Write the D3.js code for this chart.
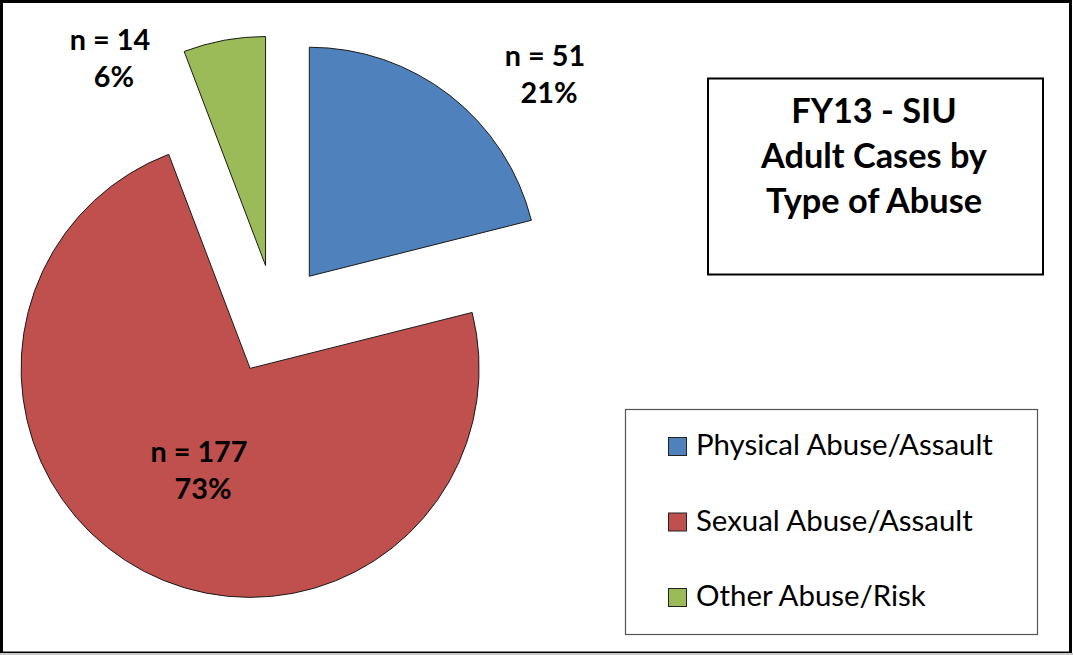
<!DOCTYPE html>
<html>
<head>
<meta charset="utf-8">
<script src="https://cdn.jsdelivr.net/npm/d3@7.9.0/dist/d3.min.js"></script>
<style>
  html, body { margin: 0; padding: 0; background: #fff; }
  svg { display: block; }
</style>
</head>
<body>
<svg id="chart" width="1073" height="655"></svg>
<script>
// data
const categories = ["Physical Abuse/Assault", "Sexual Abuse/Assault", "Other Abuse/Risk"];
const counts = [51, 177, 14];
const percents = ["21%", "73%", "6%"];
const colors = ["#4F81BD", "#C0504D", "#9BBB59"];
const titleLines = ["FY13 - SIU", "Adult Cases by", "Type of Abuse"];

// layout
const W = 1073, H = 655;
const cx = 275.5, cy = 319.6, radius = 229, explode = 55;
const labelAnchors = [[545, 66], [199, 462], [110, 50]]; // centre x / first baseline

const svg = d3.select("#chart");

// outer frame
svg.append("rect")
  .attr("x", 1.5).attr("y", 1.5)
  .attr("width", 1069).attr("height", 651.5)
  .attr("fill", "#fff").attr("stroke", "#000").attr("stroke-width", 3);
svg.append("line")
  .attr("x1", 0).attr("x2", W).attr("y1", 654).attr("y2", 654)
  .attr("stroke", "#c8c8c8").attr("stroke-width", 2);

// pie
const data = categories.map((c, i) => ({ label: c, value: counts[i], color: colors[i] }));
const pie = d3.pie().value(d => d.value).sort(null);
const arcGen = d3.arc().innerRadius(0).outerRadius(radius);
const arcs = pie(data);

const g = svg.append("g").attr("transform", `translate(${cx},${cy})`);
g.selectAll("path")
  .data(arcs)
  .join("path")
  .attr("d", arcGen)
  .attr("fill", d => d.data.color)
  .attr("stroke", "#1a1a1a")
  .attr("stroke-width", 1)
  .attr("transform", d => {
    const mid = (d.startAngle + d.endAngle) / 2;
    return `translate(${explode * Math.sin(mid)},${-explode * Math.cos(mid)})`;
  });

// fit helper: pick a font size so the text spans a given width
function fitSize(text, family, weight, target) {
  const t = svg.append("text").attr("font-family", family).attr("font-weight", weight)
    .attr("font-size", 40).text(text);
  const w = t.node().getComputedTextLength();
  t.remove();
  return 40 * target / w;
}

const labelFont = "Lato, 'Open Sans', sans-serif";
const labelSize = fitSize("n = 177", labelFont, 700, 97);

// data labels
arcs.forEach((d, i) => {
  const [lx, ly] = labelAnchors[i];
  const t = svg.append("text")
    .attr("font-family", labelFont).attr("font-weight", 700)
    .attr("font-size", labelSize).attr("fill", "#000")
    .attr("text-anchor", "middle");
  t.append("tspan").attr("x", lx).attr("y", ly).text(`n = ${d.data.value}`);
  t.append("tspan").attr("x", lx + 4).attr("y", ly + 37).text(percents[i]);
});

// title box
svg.append("rect")
  .attr("x", 708).attr("y", 78.5).attr("width", 335).attr("height", 196)
  .attr("fill", "#fff").attr("stroke", "#000").attr("stroke-width", 2);
const titleSize = fitSize("Adult Cases by", labelFont, 700, 226);
svg.append("g").selectAll("text")
  .data(titleLines)
  .join("text")
  .attr("x", 874).attr("y", (d, i) => 123 + i * 45)
  .attr("text-anchor", "middle")
  .attr("font-family", labelFont).attr("font-weight", 700)
  .attr("font-size", titleSize).attr("fill", "#000")
  .text(d => d);

// legend
svg.append("rect")
  .attr("x", 625.5).attr("y", 409.5).attr("width", 412).attr("height", 225)
  .attr("fill", "#fff").attr("stroke", "#555").attr("stroke-width", 1.2);
const legendSize = fitSize("Physical Abuse/Assault", labelFont, 400, 297);
const yLegend = d3.scalePoint().domain(categories).range([455, 606]);
const items = svg.append("g").selectAll("g")
  .data(data)
  .join("g")
  .attr("transform", d => `translate(668,${yLegend(d.label)})`);
items.append("rect")
  .attr("x", 0.5).attr("y", -17.5).attr("width", 18).attr("height", 18)
  .attr("fill", d => d.color).attr("stroke", "#222").attr("stroke-width", 1);
items.append("text")
  .attr("x", 28).attr("y", 0)
  .attr("font-family", labelFont).attr("font-size", legendSize).attr("fill", "#000")
  .text(d => d.label);
</script>
</body>
</html>
